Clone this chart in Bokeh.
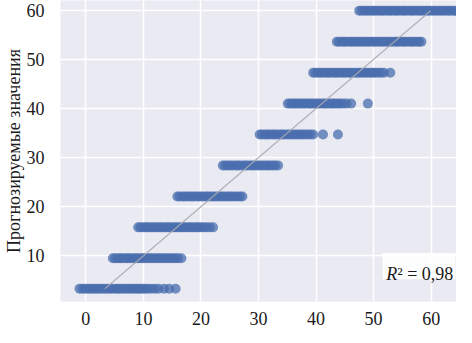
from bokeh.plotting import figure
from bokeh.models import ColumnDataSource, FixedTicker, Label, BoxAnnotation, Range1d
from bokeh.embed import file_html
from bokeh.resources import INLINE

# Predicted levels (y) and actual values (x) for each band
levels = [3.3, 9.5, 15.8, 22.1, 28.4, 34.7, 41.0, 47.3, 53.6, 59.9]

band0 = [-1.1, -0.6, -0.2, 0.3, 0.7, 1.1, 1.6, 2.0, 2.4, 2.9, 3.3, 3.8, 4.2, 4.6, 5.1, 5.5,
         5.9, 6.4, 6.8, 7.3, 7.7, 8.1, 8.6, 9.0, 9.4, 9.9, 10.3, 10.8, 11.4, 12.0, 12.6,
         13.6, 14.5, 15.6]
band1 = [4.7, 5.1, 5.6, 6.0, 6.4, 6.9, 7.3, 7.7, 8.2, 8.6, 9.0, 9.5, 9.9, 10.3, 10.8, 11.2,
         11.6, 12.1, 12.5, 12.9, 13.4, 13.8, 14.2, 14.7, 15.1, 15.6, 16.0, 16.6]
band2 = [9.1, 9.5, 10.0, 10.4, 10.8, 11.3, 11.7, 12.1, 12.6, 13.0, 13.4, 13.9, 14.3, 14.7,
         15.2, 15.6, 16.0, 16.5, 16.9, 17.3, 17.8, 18.2, 18.6, 19.1, 19.5, 19.9, 20.4, 20.9,
         21.5, 22.1]
band3 = [15.9, 16.3, 16.8, 17.2, 17.6, 18.1, 18.5, 18.9, 19.4, 19.8, 20.2, 20.7, 21.1, 21.5,
         22.0, 22.4, 22.8, 23.3, 23.7, 24.1, 24.6, 25.0, 25.4, 25.9, 26.3, 26.8, 27.2]
band4 = [23.8, 24.2, 24.7, 25.1, 25.5, 26.0, 26.4, 26.8, 27.3, 27.7, 28.1, 28.6, 29.0, 29.4,
         29.9, 30.3, 30.7, 31.2, 31.6, 32.0, 32.5, 32.9, 33.4]
band5 = [30.2, 30.6, 31.1, 31.5, 31.9, 32.4, 32.8, 33.2, 33.7, 34.1, 34.5, 35.0, 35.4, 35.8,
         36.3, 36.7, 37.1, 37.6, 38.0, 38.5, 39.0, 39.5, 41.2, 43.8]
band6 = [35.1, 35.5, 36.0, 36.4, 36.8, 37.3, 37.7, 38.1, 38.6, 39.0, 39.4, 39.9, 40.3, 40.7,
         41.2, 41.6, 42.0, 42.5, 42.9, 43.3, 43.8, 44.2, 44.7, 45.3, 46.1, 49.0]
band7 = [39.5, 39.9, 40.4, 40.8, 41.2, 41.7, 42.1, 42.5, 43.0, 43.4, 43.8, 44.3, 44.7, 45.1,
         45.6, 46.0, 46.4, 46.9, 47.3, 47.7, 48.2, 48.6, 49.0, 49.5, 49.9, 50.3, 50.8, 51.3,
         51.8, 52.9]
band8 = [43.6, 44.0, 44.5, 44.9, 45.3, 45.8, 46.2, 46.6, 47.1, 47.5, 47.9, 48.4, 48.8, 49.2,
         49.7, 50.1, 50.5, 51.0, 51.4, 51.8, 52.3, 52.7, 53.1, 53.6, 54.0, 54.4, 54.9, 55.3,
         55.7, 56.2, 56.6, 57.0, 57.5, 57.9, 58.3]
band9 = [47.5, 47.9, 48.4, 48.8, 49.2, 49.7, 50.1, 50.5, 51.0, 51.4, 51.8, 52.3, 52.7, 53.1,
         53.6, 54.0, 54.4, 54.9, 55.3, 55.7, 56.2, 56.6, 57.0, 57.5, 57.9, 58.3, 58.8, 59.2,
         59.6, 60.1, 60.5, 60.9, 61.4, 61.8, 62.2, 62.7, 63.1, 63.5, 64.0, 64.4]

bands = [band0, band1, band2, band3, band4, band5, band6, band7, band8, band9]

x_ticks = [0, 10, 20, 30, 40, 50, 60]
y_ticks = [10, 20, 30, 40, 50, 60]
y_label = "Прогнозируемые значения"
r2_text = "0,98"

xs, ys = [], []
for lvl, band in zip(levels, bands):
    xs.extend(band)
    ys.extend([lvl] * len(band))
src = ColumnDataSource(data=dict(x=xs, y=ys))

FONT = "Liberation Serif"

p = figure(width=456, height=327,
           x_range=Range1d(-4.4, 64.4), y_range=Range1d(0.7, 62.0),
           output_backend="svg", toolbar_location=None,
           min_border_left=49, min_border_right=0, min_border_top=0, min_border_bottom=22)
p.background_fill_color = "#eaeaf2"
p.border_fill_color = "white"
p.outline_line_color = None

for g in (p.xgrid, p.ygrid):
    g.grid_line_color = "white"
    g.grid_line_width = 1.5
p.xgrid.ticker = FixedTicker(ticks=x_ticks)
p.ygrid.ticker = FixedTicker(ticks=y_ticks)

for ax in (p.xaxis, p.yaxis):
    ax.axis_line_color = None
    ax.major_tick_line_color = None
    ax.minor_tick_line_color = None
    ax.major_label_text_font = FONT
    ax.major_label_text_font_size = "18px"
    ax.major_label_text_color = "#1a1a1a"
p.xaxis.ticker = FixedTicker(ticks=x_ticks)
p.yaxis.ticker = FixedTicker(ticks=y_ticks)
p.xaxis.major_label_standoff = 4
p.yaxis.major_label_standoff = 10

p.yaxis.axis_label = y_label
p.yaxis.axis_label_text_font = FONT
p.yaxis.axis_label_text_font_size = "18px"
p.yaxis.axis_label_text_font_style = "normal"
p.yaxis.axis_label_text_color = "#1a1a1a"
p.yaxis.axis_label_standoff = 0

p.scatter("x", "y", source=src, size=10, fill_color="#4a6eae", fill_alpha=0.75, line_color=None)

lo, hi = min(levels), max(levels)
p.line(x=[lo, hi], y=[lo, hi], line_color="#a8a8b0", line_alpha=0.9, line_width=1.2)

box = BoxAnnotation(left=51.55, right=64.23, bottom=5.25, top=10.6,
                    fill_color="white", fill_alpha=0.9, line_color=None)
p.add_layout(box)
p.add_layout(Label(x=52.2, y=6.24, text="R", text_font=FONT, text_font_size="18px",
                   text_font_style="italic", text_color="#1a1a1a", text_baseline="alphabetic"))
p.add_layout(Label(x=52.2, y=6.24, x_offset=11, text="² = " + r2_text, text_font=FONT,
                   text_font_size="18px", text_color="#1a1a1a", text_baseline="alphabetic"))

open("out.html", "w").write(file_html(p, INLINE))
